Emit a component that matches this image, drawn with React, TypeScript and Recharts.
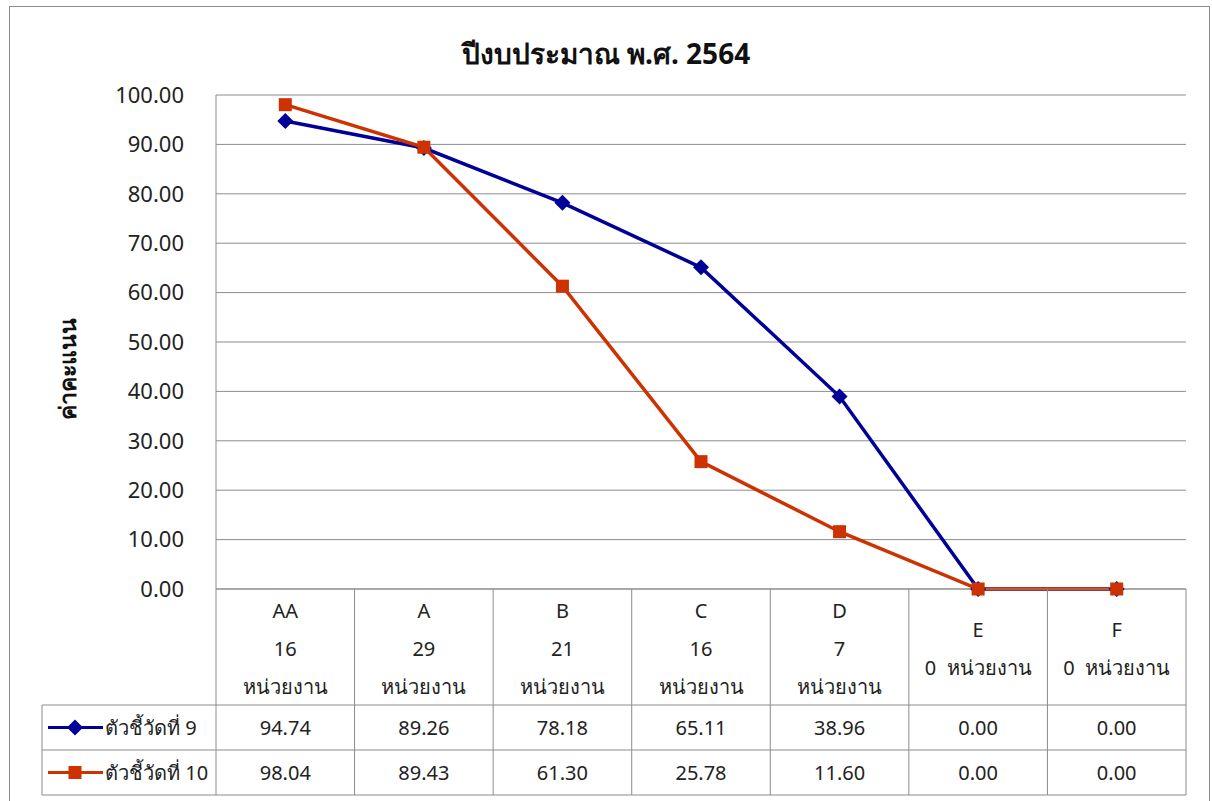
import { LineChart, Line, XAxis, YAxis, CartesianGrid } from 'recharts'

const categories = ['AA', 'A', 'B', 'C', 'D', 'E', 'F']
const tickLines = [
  ['AA', '16', 'หน่วยงาน'],
  ['A', '29', 'หน่วยงาน'],
  ['B', '21', 'หน่วยงาน'],
  ['C', '16', 'หน่วยงาน'],
  ['D', '7', 'หน่วยงาน'],
  ['E', '0  หน่วยงาน'],
  ['F', '0  หน่วยงาน'],
]
const indicator9 = [94.74, 89.26, 78.18, 65.11, 38.96, 0, 0]
const indicator10 = [98.04, 89.43, 61.3, 25.78, 11.6, 0, 0]
const seriesNames = ['ตัวชี้วัดที่ 9', 'ตัวชี้วัดที่ 10']
const yTicks = [0, 10, 20, 30, 40, 50, 60, 70, 80, 90, 100]

const BLUE = '#000099'
const RED = '#cc3300'
const GRAY = '#8c8c8c'
const FONT = "'Noto Sans', 'DejaVu Sans', sans-serif"

const W = 1212
const H = 801
const MARGIN = { top: 95, right: 26, bottom: 96, left: 136 }
const Y_AXIS_W = 80
const HEAD_H = 116
const ROW_H = 45
const LEGEND_W = 174
const PLOT_W = W - MARGIN.left - MARGIN.right - Y_AXIS_W
const HALF_BAND = PLOT_W / categories.length / 2

const data = categories.map((c, i) => ({ name: c, s9: indicator9[i], s10: indicator10[i] }))

function Diamond({ cx, cy }: any) {
  if (cx == null || cy == null) return null
  const r = 8
  return <path d={`M${cx},${cy - r}L${cx + r},${cy}L${cx},${cy + r}L${cx - r},${cy}Z`} fill={BLUE} />
}

function Square({ cx, cy }: any) {
  if (cx == null || cy == null) return null
  return <rect x={cx - 6.5} y={cy - 6.5} width={13} height={13} fill={RED} />
}

function TableTick(props: any) {
  const { x, y, index } = props
  const half = HALF_BAND
  const lines = tickLines[index]
  const bottom = y + HEAD_H + ROW_H * 2
  const rows = [indicator9, indicator10]
  const left = index === 0 ? x - half - LEGEND_W : x - half
  return (
    <g fontFamily={FONT} fontSize={20} fill="#222">
      <line x1={x + half} y1={y} x2={x + half} y2={bottom} stroke={GRAY} />
      {index === 0 && <line x1={x - half} y1={y} x2={x - half} y2={bottom} stroke={GRAY} />}
      {index === 0 && <line x1={left} y1={y + HEAD_H} x2={left} y2={bottom} stroke={GRAY} />}
      {[0, 1, 2].map(r => (
        <line key={r} x1={left} y1={y + HEAD_H + r * ROW_H} x2={x + half} y2={y + HEAD_H + r * ROW_H} stroke={GRAY} />
      ))}
      {lines.map((t, i) => (
        <text
          key={i}
          x={x}
          y={y + 59 + (i - (lines.length - 1) / 2) * 38}
          textAnchor="middle"
          dominantBaseline="central"
          fill="#222"
          style={{ whiteSpace: 'pre' }}
        >
          {t}
        </text>
      ))}
      {rows.map((r, i) => (
        <text key={i} x={x} y={y + HEAD_H + ROW_H * i + ROW_H / 2} textAnchor="middle" dominantBaseline="central" fill="#222">
          {r[index].toFixed(2)}
        </text>
      ))}
      {index === 0 &&
        seriesNames.map((n, i) => {
          const cy = y + HEAD_H + ROW_H * i + ROW_H / 2
          const color = i === 0 ? BLUE : RED
          return (
            <g key={n}>
              <line x1={left + 6} y1={cy} x2={left + 61} y2={cy} stroke={color} strokeWidth={3} />
              {i === 0 ? <Diamond cx={left + 33} cy={cy} /> : <Square cx={left + 33} cy={cy} />}
              <text x={left + 63} y={cy} dominantBaseline="central" fill="#222">{n}</text>
            </g>
          )
        })}
    </g>
  )
}

export default function App() {
  return (
    <div style={{ position: 'absolute', left: 0, top: 0, width: W, height: H, background: '#fff', overflow: 'hidden' }}>
      <div style={{ position: 'absolute', left: 9, top: 6, width: 1199, height: 800, border: `1px solid ${GRAY}` }} />
      <div
        style={{
          position: 'absolute', left: 0, top: 32, width: W, textAlign: 'center',
          fontFamily: FONT, fontWeight: 'bold', fontSize: 28, color: '#111',
        }}
      >
        ปีงบประมาณ พ.ศ. 2564
      </div>
      <div
        style={{
          position: 'absolute', left: 68, top: 369, transform: 'translate(-50%, -50%) rotate(-90deg)',
          fontFamily: FONT, fontWeight: 'bold', fontSize: 23, color: '#111', whiteSpace: 'nowrap',
        }}
      >
        ค่าคะแนน
      </div>
      <div style={{ position: 'absolute', left: 0, top: 0 }}>
        <LineChart width={W} height={H} data={data} margin={MARGIN}>
          <CartesianGrid vertical={false} stroke={GRAY} strokeWidth={1} />
          <XAxis
            dataKey="name"
            height={HEAD_H}
            interval={0}
            padding={{ left: HALF_BAND, right: HALF_BAND }}
            axisLine={{ stroke: GRAY }}
            tickLine={false}
            tickSize={0}
            tickMargin={0}
            tick={<TableTick />}
          />
          <YAxis
            width={Y_AXIS_W}
            domain={[0, 100]}
            ticks={yTicks}
            interval={0}
            axisLine={{ stroke: GRAY }}
            tickLine={false}
            tickSize={0}
            tickMargin={32}
            tickFormatter={(v: number) => v.toFixed(2)}
            tick={{ fontFamily: FONT, fontSize: 22, fill: '#222' }}
          />
          <Line dataKey="s9" stroke={BLUE} strokeWidth={3.5} dot={<Diamond />} activeDot={false} isAnimationActive={false} />
          <Line dataKey="s10" stroke={RED} strokeWidth={3.5} dot={<Square />} activeDot={false} isAnimationActive={false} />
        </LineChart>
      </div>
    </div>
  )
}
